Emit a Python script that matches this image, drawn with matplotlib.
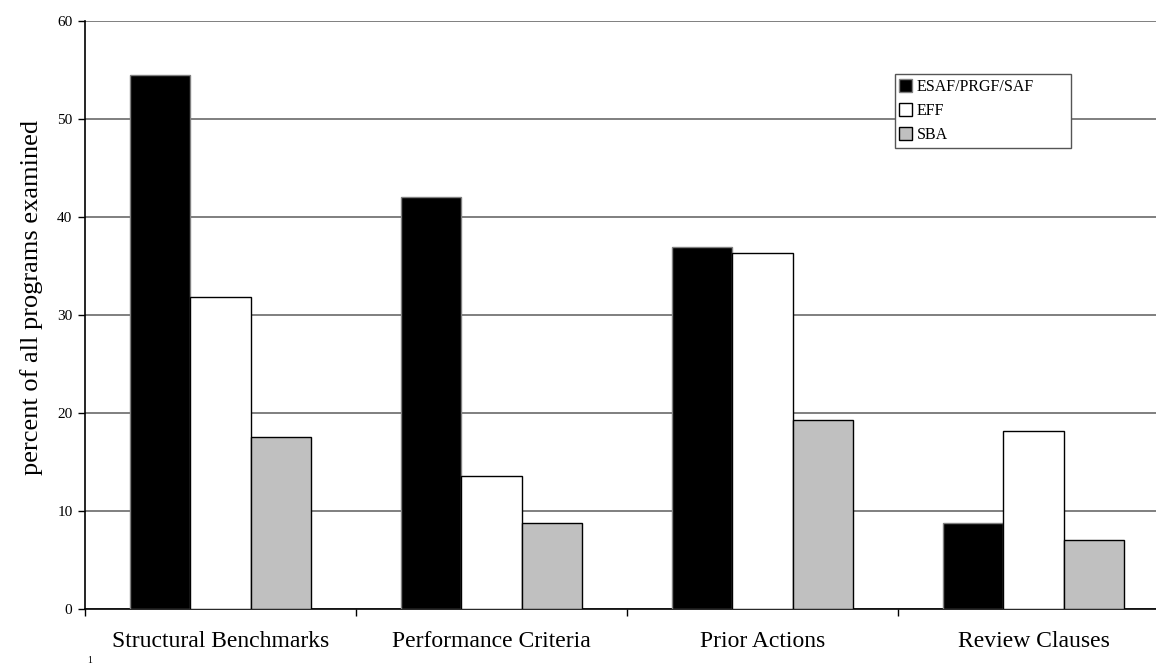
"""
Grouped bar chart: share of programs with each type of conditionality,
by facility (ESAF/PRGF/SAF, EFF, SBA).
"""

import matplotlib
matplotlib.use("Agg")
import matplotlib.pyplot as plt
import numpy as np

plt.rcParams["font.family"] = ["Liberation Serif", "DejaVu Serif"]

categories = ["Structural Benchmarks", "Performance Criteria", "Prior Actions", "Review Clauses"]
series_names = ["ESAF/PRGF/SAF", "EFF", "SBA"]
esaf = [54.5, 42.1, 36.9, 8.8]
eff = [31.8, 13.6, 36.3, 18.2]
sba = [17.5, 8.8, 19.3, 7.0]
y_ticks = [0, 10, 20, 30, 40, 50, 60]

colors = ["black", "white", "#c0c0c0"]
edges = ["#808080", "black", "black"]


def main() -> None:
    fig = plt.figure(figsize=(11.56, 6.71), dpi=100)
    # axes runs a little past the right edge of the figure
    ax = fig.add_axes([0.0735, 0.0928, 0.9377, 0.8754])

    x = np.arange(len(categories))
    width = 1 / 4.5  # gap of 1.5 bar widths between groups
    for i, (name, vals) in enumerate(zip(series_names, [esaf, eff, sba])):
        ax.bar(x + (i - 1) * width, vals, width, color=colors[i],
               edgecolor=edges[i], linewidth=1.0, label=name, zorder=3)

    ax.set_xlim(-0.5, len(categories) - 0.5)
    ax.set_ylim(0, 60)
    ax.set_yticks(y_ticks)
    ax.tick_params(axis="y", labelsize=11, direction="out", length=5, width=1, pad=4)
    ax.yaxis.grid(True, color="#6a6a6a", linewidth=1.2, zorder=0)

    ax.set_xticks(x)
    ax.set_xticklabels(categories, fontsize=17)
    ax.set_xticks(np.arange(len(categories) + 1) - 0.5, minor=True)
    ax.tick_params(axis="x", which="major", length=0, pad=16)
    ax.tick_params(axis="x", which="minor", length=5, width=1, direction="out")

    for side in ["top", "right"]:
        ax.spines[side].set_visible(False)
    ax.spines["left"].set_linewidth(1.2)
    ax.spines["bottom"].set_linewidth(1.2)

    ax.set_ylabel("percent of all programs examined", fontsize=19)
    ax.yaxis.set_label_coords(-0.039, 0.53)

    # fixed-width legend box, entries left aligned
    leg = ax.legend(loc="upper left", bbox_to_anchor=(0.747, 0.79, 0.163, 0.12),
                    mode="expand", fontsize=11.5,
                    frameon=True, fancybox=False, framealpha=1, edgecolor="#555555",
                    handlelength=0.8, handleheight=0.8, handletextpad=0.3,
                    borderpad=0.3, labelspacing=0.5, borderaxespad=0)
    leg.get_frame().set_linewidth(1.0)
    leg.set_zorder(5)

    fig.text(0.075, 0.012, "1", fontsize=7)

    fig.savefig("out.png", dpi=100)
    plt.close(fig)


if __name__ == "__main__":
    main()
